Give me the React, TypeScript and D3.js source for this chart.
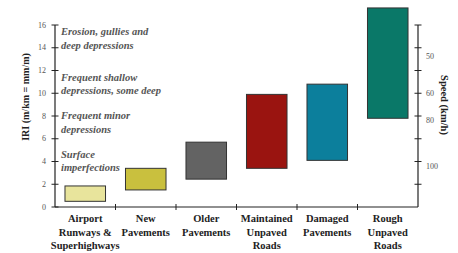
import React from "react";
import * as d3 from "d3";

const categories = [
  ["Airport", "Runways &", "Superhighways"],
  ["New", "Pavements"],
  ["Older", "Pavements"],
  ["Maintained", "Unpaved", "Roads"],
  ["Damaged", "Pavements"],
  ["Rough", "Unpaved", "Roads"],
];
const iriLow = [0.5, 1.5, 2.45, 3.4, 4.1, 7.8];
const iriHigh = [1.85, 3.4, 5.7, 9.9, 10.8, 17.5];
const barColors = ["#e8e49c", "#c9c03e", "#636363", "#9a1410", "#0c7f9c", "#0a7868"];
const iriTicks = [0, 2, 4, 6, 8, 10, 12, 14, 16];
const speedLabels = ["50", "60", "80", "100"];
const speedIRI = [13.2, 10, 7.6, 3.6];
const annotations = [
  { iri: 15.2, lines: ["Erosion, gullies and", "deep depressions"] },
  { iri: 11.2, lines: ["Frequent shallow", "depressions, some deep"] },
  { iri: 7.8, lines: ["Frequent minor", "depressions"] },
  { iri: 4.4, lines: ["Surface", "imperfections"] },
];

export default function App() {
  const W = 458, H = 253;
  const x0 = 55, x1 = 418;
  const y = d3.scaleLinear().domain([0, 16]).range([207, 25]);
  const x = d3.scaleBand<number>().domain(d3.range(categories.length)).range([x0, x1]).paddingInner(0.33).paddingOuter(0.165);
  const band = (x1 - x0) / categories.length;
  const serif = "Liberation Serif, DejaVu Serif, serif";
  return (
    <svg width={W} height={H} style={{ position: "absolute", left: 0, top: 0, background: "#fff", fontFamily: serif }}>
      {categories.map((_, i) => (
        <rect key={i} x={x(i)} width={x.bandwidth()} y={y(iriHigh[i])} height={y(iriLow[i]) - y(iriHigh[i])}
          fill={barColors[i]} stroke="#333" strokeWidth={1} />
      ))}
      <line x1={x0} x2={x0} y1={y(16)} y2={y(0)} stroke="#222" strokeWidth={1.2} />
      {iriTicks.map((t) => (
        <g key={t}>
          <line x1={x0 - 3.5} x2={x0 + 3.5} y1={y(t)} y2={y(t)} stroke="#222" strokeWidth={1} />
          <text x={46} y={y(t)} dy="0.33em" textAnchor="end" fontSize={8} fill="#555">{t}</text>
        </g>
      ))}
      <line x1={x1} x2={x1} y1={y(16)} y2={y(0)} stroke="#222" strokeWidth={1.2} />
      {iriTicks.filter((t) => t > 0).map((t) => (
        <line key={t} x1={x1 - 3.5} x2={x1 + 3.5} y1={y(t)} y2={y(t)} stroke="#222" strokeWidth={1} />
      ))}
      {speedLabels.map((s, i) => (
        <text key={s} x={426} y={y(speedIRI[i])} dy="0.33em" fontSize={8} fill="#555">{s}</text>
      ))}
      <line x1={x0} x2={x1} y1={y(0)} y2={y(0)} stroke="#222" strokeWidth={1.2} />
      {d3.range(1, categories.length).map((i) => (
        <line key={i} x1={x0 + band * i} x2={x0 + band * i} y1={y(0) - 3} y2={y(0) + 3} stroke="#222" strokeWidth={1} />
      ))}
      {categories.map((lines, i) => (
        <text key={i} textAnchor="middle" fontSize={10.5} fontWeight="bold" fill="#222">
          {lines.map((l, j) => (
            <tspan key={j} x={(x(i) as number) + x.bandwidth() / 2} y={222 + j * 13.5}>{l}</tspan>
          ))}
        </text>
      ))}
      {annotations.map((a, i) => (
        <text key={i} fontSize={10.5} fontStyle="italic" fontWeight="bold" fill="#555">
          {a.lines.map((l, j) => (
            <tspan key={j} x={61} y={y(a.iri) + 1 + j * 13.5}>{l}</tspan>
          ))}
        </text>
      ))}
      <text transform={`translate(29,97) rotate(-90)`} textAnchor="middle" fontSize={10} fontWeight="bold" fill="#222">IRI (m/km = mm/m)</text>
      <text transform={`translate(441,105) rotate(90)`} textAnchor="middle" fontSize={10.5} fontWeight="bold" fill="#222">Speed (km/h)</text>
    </svg>
  );
}
